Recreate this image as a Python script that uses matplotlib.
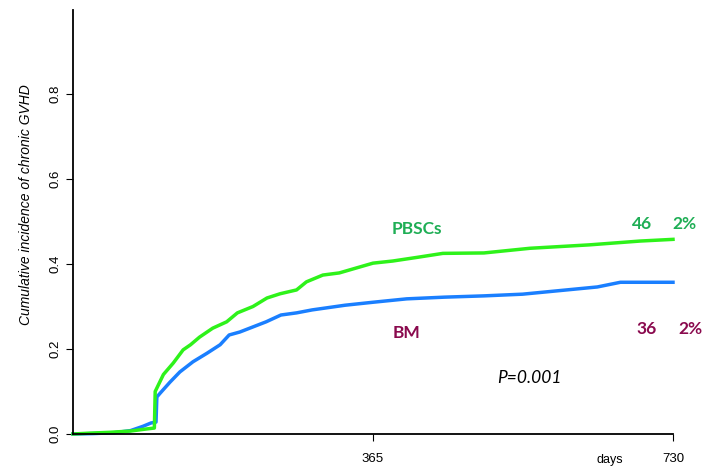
import numpy as np
import matplotlib
matplotlib.use("Agg")
import matplotlib.pyplot as plt

# cumulative incidence (days, value)
pbsc_days = [0, 20, 45, 70, 90, 99, 100, 110, 122, 134, 143, 154, 170, 187, 200,
             219, 236, 252, 272, 284, 304, 324, 340, 365, 389, 420, 450, 500,
             556, 628, 690, 730]
pbsc_cum = [0.0, 0.002, 0.004, 0.007, 0.012, 0.014, 0.10, 0.14, 0.167, 0.198,
            0.21, 0.228, 0.249, 0.264, 0.285, 0.30, 0.32, 0.33, 0.339, 0.358,
            0.374, 0.379, 0.388, 0.402, 0.407, 0.416, 0.425, 0.426, 0.437,
            0.445, 0.454, 0.458]
bm_days = [0, 25, 50, 70, 85, 95, 101, 102, 106, 118, 130, 146, 163, 179, 190,
           203, 219, 235, 253, 272, 291, 331, 365, 406, 452, 500, 547, 638,
           666, 730]
bm_cum = [0.0, 0.001, 0.003, 0.008, 0.018, 0.026, 0.028, 0.087, 0.096, 0.122,
          0.146, 0.17, 0.19, 0.21, 0.233, 0.24, 0.252, 0.264, 0.28, 0.285,
          0.292, 0.303, 0.31, 0.318, 0.322, 0.325, 0.329, 0.346, 0.357, 0.357]

green = "#2ef21a"
blue = "#1a7fff"
txt_green = "#1fae55"
txt_red = "#8a0a4e"

plt.rcParams['font.family'] = ['Liberation Sans', 'DejaVu Sans']

fig = plt.figure(figsize=(7.02, 4.70), dpi=100)
ax = fig.add_axes([73 / 702, 36 / 470, 600 / 702, 425 / 470])

ax.plot(bm_days, bm_cum, color=blue, lw=2.5, solid_joinstyle="round", clip_on=False)
ax.plot(pbsc_days, pbsc_cum, color=green, lw=2.5, solid_joinstyle="round", clip_on=False)

ax.set_xlim(0, 730)
ax.set_ylim(0, 1.0)
ax.spines["top"].set_visible(False)
ax.spines["right"].set_visible(False)
ax.spines["left"].set_bounds(0, 0.998)
ax.spines["left"].set_linewidth(1.3)
ax.spines["bottom"].set_linewidth(1.3)

ax.set_xticks([365, 730])
ax.set_xticklabels(["365", "730"], fontsize=9.5)
ax.tick_params(axis="x", length=5, pad=9, width=0.8)
ax.set_yticks([0.0, 0.2, 0.4, 0.6, 0.8])
ax.set_yticklabels(["0.0", "0.2", "0.4", "0.6", "0.8"], fontsize=9.5,
                   rotation=90, va="center")
ax.tick_params(axis="y", length=5, pad=3, width=0.8)

fig.text(26 / 702, 1 - 205 / 470, "Cumulative incidence of chronic GVHD",
         rotation=90, ha="center", va="center", fontsize=10, style="italic")
fig.text(610 / 702, 1 - 460 / 470, "days", ha="center", va="center", fontsize=9)

lab = dict(fontsize=12.5, fontweight="bold", family=["Lato", "DejaVu Sans"],
           ha="center", va="center")
fig.text(417 / 702, 1 - 229 / 470, "PBSCs", color=txt_green, **lab)
fig.text(642 / 702, 1 - 224 / 470, "46", color=txt_green, **lab)
fig.text(684 / 702, 1 - 224 / 470, "2%", color=txt_green, **lab)
fig.text(407 / 702, 1 - 333 / 470, "BM", color=txt_red, **lab)
fig.text(647 / 702, 1 - 329 / 470, "36", color=txt_red, **lab)
fig.text(690 / 702, 1 - 329 / 470, "2%", color=txt_red, **lab)
fig.text(529 / 702, 1 - 378 / 470, "P=0.001", ha="center", va="center",
         fontsize=12.5, style="italic", family=["Lato", "DejaVu Sans"])

fig.savefig("out.png", dpi=100)
